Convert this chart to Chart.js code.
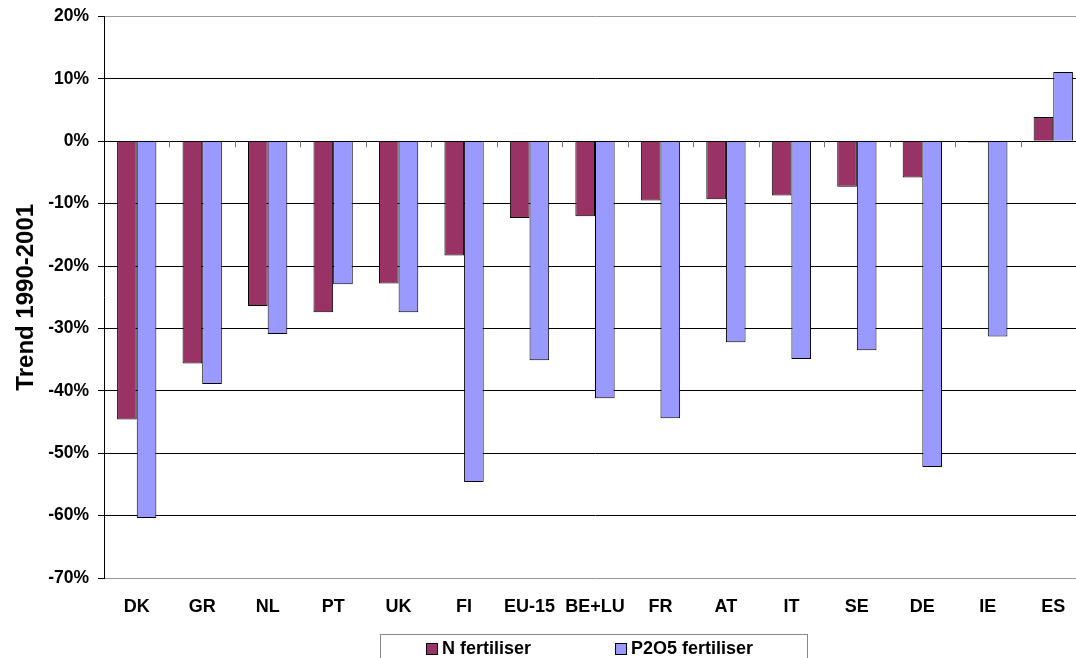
<!DOCTYPE html>
<html>
<head>
    <title>Trend 1990-2001</title>
    <script src="https://cdn.jsdelivr.net/npm/chart.js"></script>
    <style>
        html, body { margin: 0; padding: 0; overflow: hidden; background: #fff; }
        #mainChart { display: block; margin-top: -3px; }
    </style>
</head>
<body>
    <canvas id="mainChart" width="1090" height="669"></canvas>
    <script>
        const countries = ['DK', 'GR', 'NL', 'PT', 'UK', 'FI', 'EU-15', 'BE+LU', 'FR', 'AT', 'IT', 'SE', 'DE', 'IE', 'ES'];
        const nFertiliser = [-44.6, -35.6, -26.4, -27.4, -22.8, -18.3, -12.3, -12.0, -9.5, -9.3, -8.7, -7.3, -5.8, -0.2, 3.9];
        const p2o5Fertiliser = [-60.4, -38.9, -30.9, -22.9, -27.4, -54.6, -35.1, -41.2, -44.4, -32.2, -34.9, -33.5, -52.2, -31.3, 11.1];
        const seriesNames = ['N fertiliser', 'P2O5 fertiliser'];

        const font = 'Arial, "Liberation Sans", sans-serif';

        // ось категорий проходит через 0: линия и засечки между категориями
        const zeroAxis = {
            id: 'zeroAxis',
            afterDatasetsDraw(chart) {
                const ctx = chart.ctx, x = chart.scales.x, y = chart.scales.y;
                const y0 = y.getPixelForValue(0);
                ctx.save();
                ctx.strokeStyle = '#000';
                ctx.lineWidth = 1;
                ctx.beginPath();
                ctx.moveTo(chart.chartArea.left, Math.round(y0) + 0.5);
                ctx.lineTo(chart.chartArea.right, Math.round(y0) + 0.5);
                ctx.stroke();
                ctx.strokeStyle = '#777';
                const step = (x.getPixelForValue(1) - x.getPixelForValue(0));
                for (let i = 1; i < countries.length; i++) {
                    const px = Math.round(x.getPixelForValue(i) - step / 2) + 0.5;
                    ctx.beginPath();
                    ctx.moveTo(px, y0);
                    ctx.lineTo(px, y0 + 6);
                    ctx.stroke();
                }
                ctx.restore();
            }
        };

        // легенда в рамке под графиком, по центру области построения
        const boxedLegend = {
            id: 'boxedLegend',
            afterDraw(chart) {
                const ctx = chart.ctx, area = chart.chartArea;
                const ds = chart.data.datasets;
                ctx.save();
                ctx.font = 'bold 18px ' + font;
                ctx.textBaseline = 'middle';
                const gap = 84, sq = 11, sp = 5;
                const widths = ds.map(d => ctx.measureText(d.label).width);
                const total = widths.reduce((a, w) => a + sq + sp + w, 0) + gap * (ds.length - 1);
                let x = Math.round((area.left + area.right) / 2 - total / 2) - 5;
                const yMid = area.bottom + 71;
                ctx.strokeStyle = '#888';
                ctx.lineWidth = 1;
                ctx.strokeRect(x - 45.5, area.bottom + 56.5, 427, 60);
                ds.forEach((d, i) => {
                    ctx.fillStyle = d.backgroundColor;
                    ctx.fillRect(x + 0.5, yMid - 6 + 0.5, sq, sq);
                    ctx.strokeStyle = '#000';
                    ctx.strokeRect(x + 0.5, yMid - 6 + 0.5, sq, sq);
                    ctx.fillStyle = '#000';
                    ctx.fillText(d.label, x + sq + sp, yMid);
                    x += sq + sp + widths[i] + gap;
                });
                ctx.restore();
            }
        };

        new Chart(document.getElementById('mainChart'), {
            type: 'bar',
            data: {
                labels: countries,
                datasets: [
                    {
                        label: seriesNames[0],
                        data: nFertiliser,
                        backgroundColor: '#993366',
                        borderColor: '#000',
                        borderWidth: 1
                    },
                    {
                        label: seriesNames[1],
                        data: p2o5Fertiliser,
                        backgroundColor: '#9999FF',
                        borderColor: '#000',
                        borderWidth: 1
                    }
                ]
            },
            options: {
                responsive: false,
                animation: false,
                layout: { padding: { top: 12, right: 4, left: 0, bottom: 38 } },
                datasets: {
                    bar: { categoryPercentage: 0.6, barPercentage: 1.0 }
                },
                scales: {
                    x: {
                        grid: { display: false },
                        border: { display: false },
                        ticks: {
                            color: '#000',
                            font: { family: font, size: 18, weight: 'bold' },
                            padding: 10,
                            maxRotation: 0,
                            autoSkip: false
                        },
                        afterFit: s => { s.height = 50; }
                    },
                    y: {
                        min: -70,
                        max: 20,
                        ticks: {
                            stepSize: 10,
                            color: '#000',
                            font: { family: font, size: 17.5, weight: 'bold' },
                            padding: 9,
                            callback: v => v + '%'
                        },
                        grid: {
                            color: ctx => (ctx.tick && (ctx.tick.value === 20 || ctx.tick.value === -70)) ? '#999' : '#000',
                            tickColor: '#000',
                            tickLength: 6
                        },
                        border: { color: '#000', width: 1 },
                        title: {
                            display: true,
                            text: 'Trend 1990-2001',
                            color: '#000',
                            font: { family: font, size: 24, weight: 'bold' },
                            padding: { top: 12, bottom: 4 }
                        },
                        afterFit: s => { s.width = 104; }
                    }
                },
                plugins: {
                    legend: { display: false },
                    tooltip: { enabled: false }
                }
            },
            plugins: [zeroAxis, boxedLegend]
        });
    </script>
</body>
</html>
